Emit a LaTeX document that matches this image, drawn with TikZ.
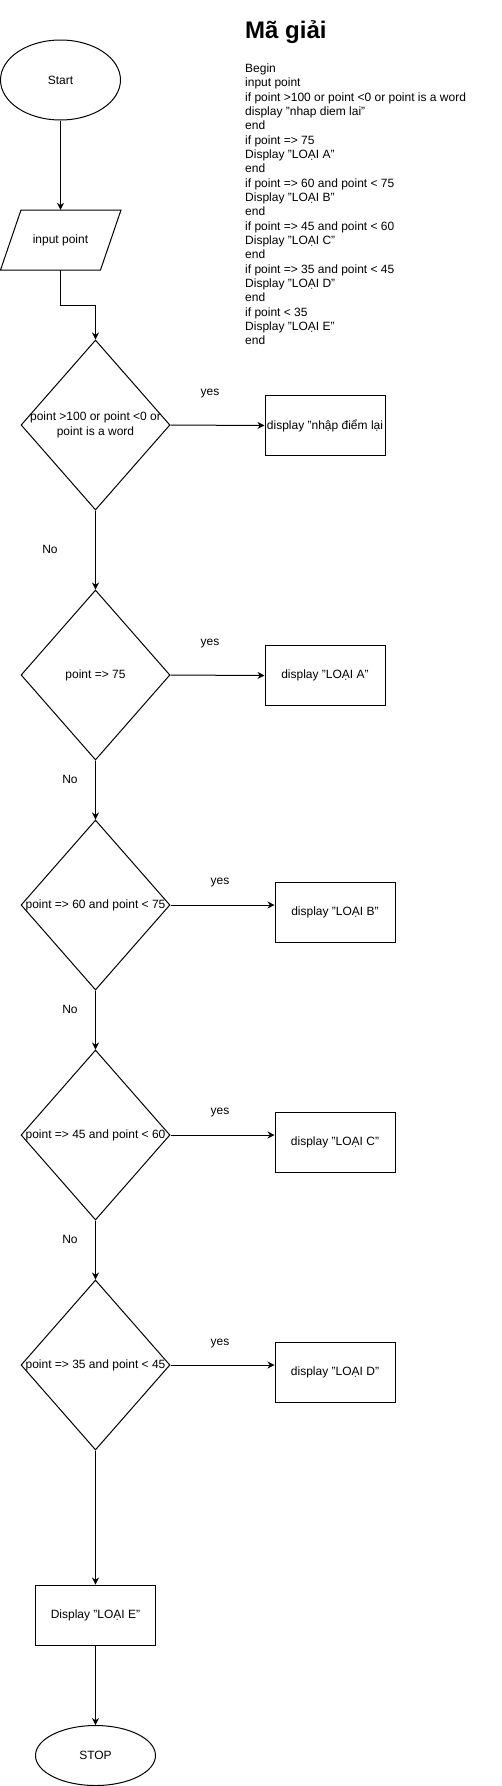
\documentclass[tikz,border=0pt]{standalone}
\usepackage{fontspec}
\setmainfont{Liberation Sans}
\usetikzlibrary{shapes.geometric,arrows.meta}
\tikzset{
  fnt/.style={font=\fontsize{12}{14.34}\selectfont},
  base/.style={draw=black, line width=1pt, inner sep=0pt, fnt},
  term/.style={base, ellipse, minimum width=120pt},
  proc/.style={base, rectangle, minimum width=120pt, minimum height=60pt},
  dec/.style={base, diamond, minimum width=149pt, minimum height=170pt},
  lbl/.style={fnt, inner sep=0pt},
  arr/.style={line width=1pt, -{Stealth[length=7pt,width=7pt]}},
}
\begin{document}
\begin{tikzpicture}[x=1pt,y=1pt]
\useasboundingbox (0,0) rectangle (501,-1786);
% terminals and processes
\node[term, minimum height=80pt] (start) at (60.5,-80) {Start};
\node[lbl, minimum width=100pt, minimum height=60pt] (inp) at (60.5,-240) {input point};
\draw[line width=1pt] (0.5,-270) -- (21,-210) -- (121,-210) -- (100.5,-270) -- cycle;

\node[dec, label={[lbl, align=center]center:point >100 or point <0 or\\point is a word}] (d1) at (95.5,-425) {};
\node[dec, label={[lbl]center:point => 75}] (d2) at (95.5,-675) {};
\node[dec, label={[lbl]center:point => 60 and point < 75}] (d3) at (95.5,-905) {};
\node[dec, label={[lbl]center:point => 45 and point < 60}] (d4) at (95.5,-1135) {};
\node[dec, label={[lbl]center:point => 35 and point < 45}] (d5) at (95.5,-1365) {};

\node[proc] (bn) at (325,-425.5) {display "nhập điểm lại};
\node[proc] (ba) at (325,-675.5) {display "LOẠI A"};
\node[proc] (bb) at (335,-912.7) {display "LOẠI B"};
\node[proc] (bc) at (335,-1142.7) {display "LOẠI C"};
\node[proc] (bd) at (335,-1372.7) {display "LOẠI D"};
\node[proc] (be) at (95.5,-1615) {Display "LOẠI E"};
\node[term, minimum height=60pt] (stop) at (95.5,-1755.5) {STOP};

% connectors
\draw[arr] (start) -- (inp.north);
\draw[arr] (inp.south) -- ++(0,-35) -| (d1.north);
\draw[arr] (d1.east) -- (bn.west);
\draw[arr] (d1.south) -- (d2.north);
\draw[arr] (d2.east) -- (ba.west);
\draw[arr] (d2.south) -- (d3.north);
\draw[arr] (d3.east) -- (d3.east -| bb.west);
\draw[arr] (d3.south) -- (d4.north);
\draw[arr] (d4.east) -- (d4.east -| bc.west);
\draw[arr] (d4.south) -- (d5.north);
\draw[arr] (d5.east) -- (d5.east -| bd.west);
\draw[arr] (d5.south) -- (be.north);
\draw[arr] (be.south) -- (stop.north);

% edge labels
\node[lbl] (y1) at (210,-394) {yes};
\node[lbl] (y2) at (210,-644) {yes};
\node[lbl] (y3) at (220,-883) {yes};
\node[lbl] (y4) at (220,-1113) {yes};
\node[lbl] (y5) at (220,-1343) {yes};
\node[lbl] (n1) at (50,-549) {No};
\node[lbl] (n2) at (70,-779) {No};
\node[lbl] (n3) at (70,-1009) {No};
\node[lbl] (n4) at (70,-1239) {No};

% pseudo-code
\node[anchor=base west, inner sep=0pt, font=\fontsize{24}{28}\selectfont\bfseries] (title) at (245,-38.3) {Mã giải};
\node[lbl, anchor=north west, align=left] (code) at (245,-63.6) {Begin\\
input point\\
if point >100 or point <0 or point is a word\\
display "nhap diem lai"\\
end\\
if point => 75\\
Display "LOẠI A"\\
end\\
if point => 60 and point < 75\\
Display "LOẠI B"\\
end\\
if point => 45 and point < 60\\
Display "LOẠI C"\\
end\\
if point => 35 and point < 45\\
Display "LOẠI D"\\
end\\
if point < 35\\
Display "LOẠI E"\\
end};
\end{tikzpicture}
\end{document}
